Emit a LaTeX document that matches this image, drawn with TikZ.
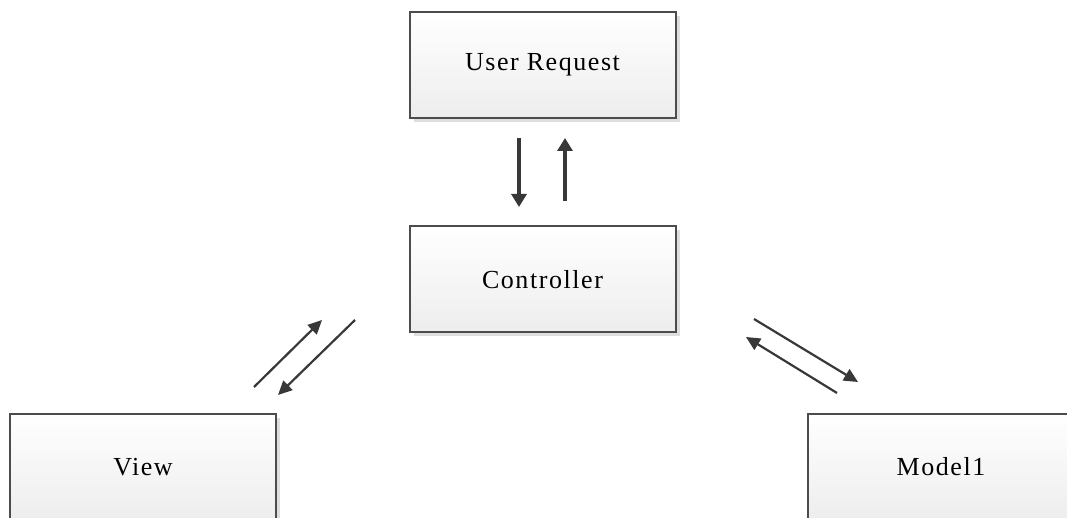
\documentclass[tikz,border=0pt]{standalone}
\usepackage{fontspec}
\setmainfont[LetterSpace=6]{Liberation Serif}
\usetikzlibrary{arrows.meta,shadows}

\tikzset{
	box/.style={draw=black!70, line width=1pt, minimum width=133pt, minimum height=53pt,
		top color=white, bottom color=black!7,
		drop shadow={shadow xshift=2pt, shadow yshift=-2pt, fill=black!13, opacity=1}},
	flow/.style={draw=black!78, line width=1.6pt, -{Triangle[length=6.5pt, width=7.5pt]}},
	sideflow/.style={draw=black!78, line width=1.1pt, -{Triangle[length=7pt, width=6.5pt]}}
}

\begin{document}
\begin{tikzpicture}[x=0.5pt, y=-0.5pt, font=\fontsize{13}{15}\selectfont]
	\useasboundingbox (0,0) rectangle (1067,518);
	%boxes
	\node[box] (request) at (542.5,65) {User Request};
	\node[box] (controller) at (542.5,279.5) {Controller};
	\node[box] (view) at (143,467) {View};
	\node[box] (model) at (941,467) {Model1};
	%arrow ends
	\coordinate (rq down) at (519,138);
	\coordinate (ct down) at (519,207);
	\coordinate (ct up) at (565,201);
	\coordinate (rq up) at (565,138);
	\coordinate (vw a) at (254,387);
	\coordinate (ct a) at (322,320);
	\coordinate (ct b) at (355,320);
	\coordinate (vw b) at (278,395);
	\coordinate (ct c) at (754,319);
	\coordinate (md c) at (858,382);
	\coordinate (md d) at (837,393);
	\coordinate (ct d) at (746,337);
	%arrows
	\draw[flow] (rq down) -- (ct down);
	\draw[flow] (ct up) -- (rq up);
	\draw[sideflow] (vw a) -- (ct a);
	\draw[sideflow] (ct b) -- (vw b);
	\draw[sideflow] (ct c) -- (md c);
	\draw[sideflow] (md d) -- (ct d);
\end{tikzpicture}
\end{document}
